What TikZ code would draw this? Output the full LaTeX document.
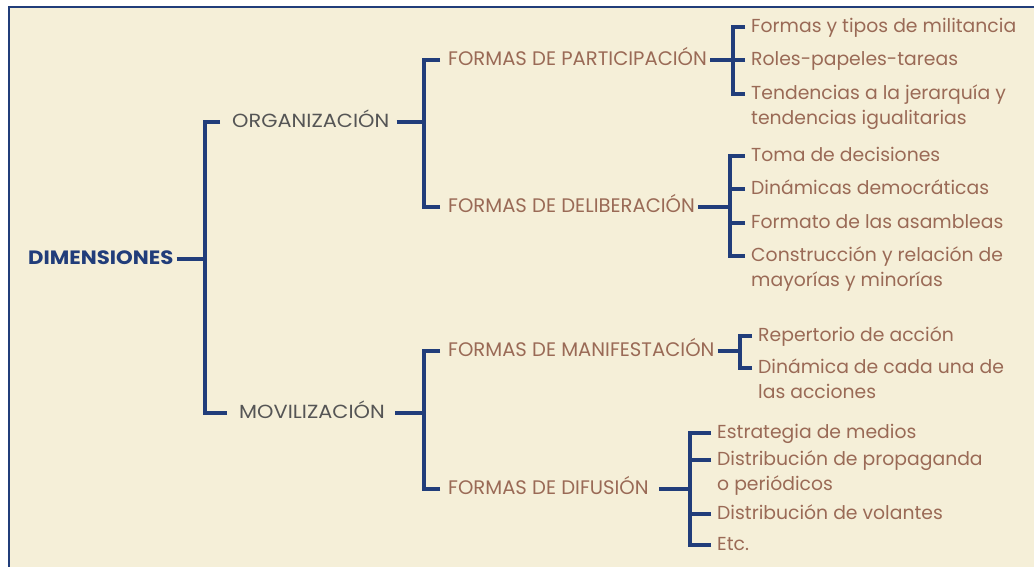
\documentclass[tikz,border=0pt]{standalone}
\usepackage{fontspec}
\setmainfont{Poppins}
\newfontfamily\widefont[FakeStretch=1.1]{Poppins}
\usetikzlibrary{positioning}

\definecolor{paper}{HTML}{F5EFD8}
\definecolor{navy}{HTML}{213D7A}
\definecolor{slate}{HTML}{555555}
\definecolor{umber}{HTML}{9A6A56}

% first line carries the anchor
\newcommand{\twolines}[2]{\vtop{\hbox{#1}\hbox{#2}}}

\begin{document}
\begin{tikzpicture}[x=1pt, y=-1pt,
    every node/.style={inner sep=0pt, anchor=mid west},
    root/.style={font=\widefont\fontsize{19.3}{22}\selectfont\bfseries, text=navy},
    dim/.style={font=\widefont\fontsize{19}{22}\selectfont, text=slate},
    aspect/.style={font=\fontsize{19.6}{22}\selectfont, text=umber},
    item/.style={font=\fontsize{18.8}{25}\selectfont, text=umber},
    link/.style={draw=navy, line width=3.2pt}]
  \useasboundingbox (0,0) rectangle (1034,567);
  \fill[paper, draw=navy, line width=1.5pt] (9,7) rectangle (1045,580);

  % tree
  \node[root] (dim) at (28,262) {DIMENSIONES};
  \node[dim] (org) at (232,125) {ORGANIZACIÓN};
  \node[dim] (mov) at (239,416) {MOVILIZACIÓN};
  \node[aspect] (part) at (448,63) {FORMAS DE PARTICIPACIÓN};
  \node[aspect] (delib) at (448,210) {FORMAS DE DELIBERACIÓN};
  \node[aspect] (manif) at (448,354) {FORMAS DE MANIFESTACIÓN};
  \node[aspect] (difus) at (448,492) {FORMAS DE DIFUSIÓN};

  \node[item] (p1) at (751,30) {Formas y tipos de militancia};
  \node[item] (p2) at (751,63) {Roles-papeles-tareas};
  \node[item] (p3) at (751,97) {\twolines{Tendencias a la jerarquía y}{tendencias igualitarias}};
  \node[item] (d1) at (751,159) {Toma de decisiones};
  \node[item] (d2) at (751,192) {Dinámicas democráticas};
  \node[item] (d3) at (751,226) {Formato de las asambleas};
  \node[item] (d4) at (751,259) {\twolines{Construcción y relación de}{mayorías y minorías}};
  \node[item] (m1) at (758,339) {Repertorio de acción};
  \node[item] (m2) at (758,371) {\twolines{Dinámica de cada una de}{las acciones}};
  \node[item] (f1) at (717,436) {Estrategia de medios};
  \node[item] (f2) at (717,463) {\twolines{Distribución de propaganda}{o periódicos}};
  \node[item] (f3) at (717,517) {Distribución de volantes};
  \node[item] (f4) at (717,548) {Etc.};

  % junctions
  \coordinate (jd) at (205,259);
  \coordinate (jo) at (424,122);
  \coordinate (jm) at (424,413);
  \coordinate (jp) at (733,60);
  \coordinate (jl) at (730,207);
  \coordinate (ja) at (740,351);
  \coordinate (jf) at (690,489);

  \draw[link, shorten <=3pt] ([yshift=3pt]dim.mid east) -- (jd);
  \draw[link, shorten <=12pt] ([yshift=3pt]org.mid west) -| (jd);
  \draw[link, shorten <=12pt] ([yshift=3pt]mov.mid west) -| (jd);

  \draw[link, shorten <=7pt] ([yshift=3pt]org.mid east) -- (jo);
  \draw[link, shorten <=8pt] ([yshift=3pt]part.mid west) -| (jo);
  \draw[link, shorten <=8pt] ([yshift=3pt]delib.mid west) -| (jo);
  \draw[link, shorten <=10pt] ([yshift=3pt]mov.mid east) -- (jm);
  \draw[link, shorten <=8pt] ([yshift=3pt]manif.mid west) -| (jm);
  \draw[link, shorten <=8pt] ([yshift=3pt]difus.mid west) -| (jm);

  \draw[link, shorten <=3pt] ([yshift=3pt]part.mid east) -- (jp);
  \foreach \n in {p1,p2,p3}
    \draw[link, shorten <=6pt] ([yshift=3pt]\n.mid west) -| (jp);
  \draw[link, shorten <=3pt] ([yshift=3pt]delib.mid east) -- (jl);
  \foreach \n in {d1,d2,d3,d4}
    \draw[link, shorten <=6pt] ([yshift=3pt]\n.mid west) -| (jl);
  \draw[link, shorten <=3pt] ([yshift=3pt]manif.mid east) -- (ja);
  \foreach \n in {m1,m2}
    \draw[link, shorten <=6pt] ([yshift=3pt]\n.mid west) -| (ja);
  \draw[link, shorten <=10pt] ([yshift=3pt]difus.mid east) -- (jf);
  \foreach \n in {f1,f2,f3,f4}
    \draw[link, shorten <=6pt] ([yshift=3pt]\n.mid west) -| (jf);
\end{tikzpicture}
\end{document}
